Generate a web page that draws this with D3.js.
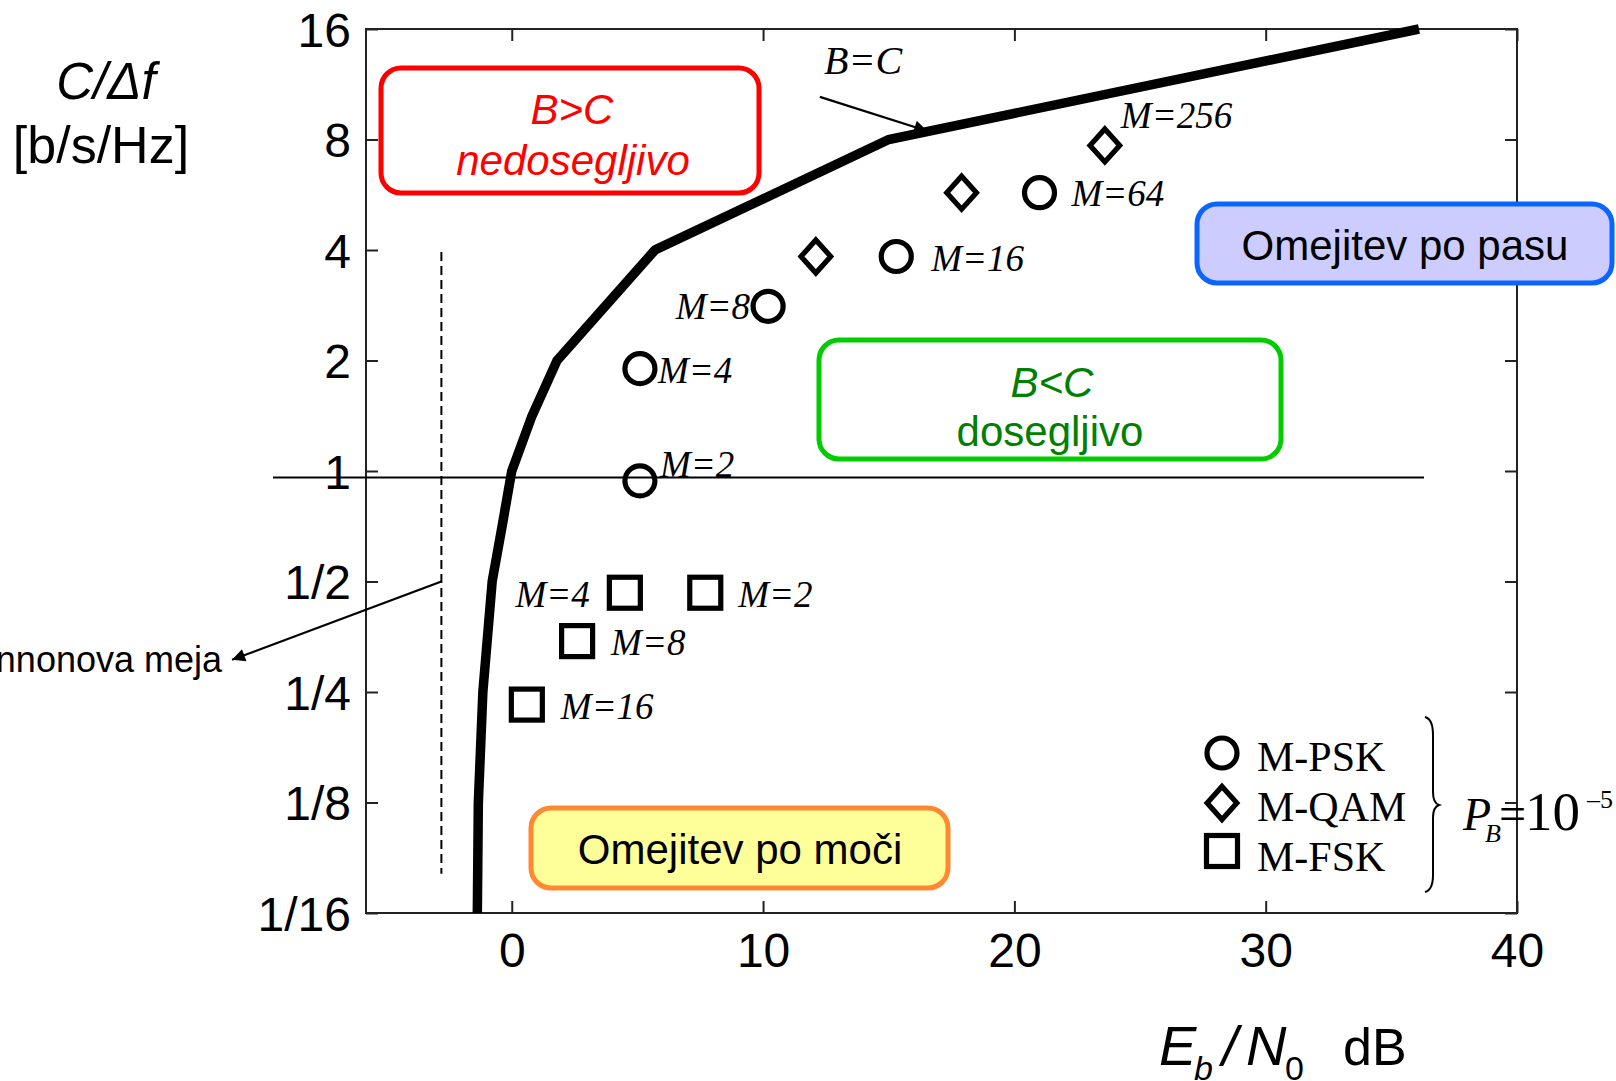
<!DOCTYPE html>
<html><head><meta charset="utf-8">
<script src="https://cdn.jsdelivr.net/npm/d3@7"></script>
<style>
body{margin:0;background:#fff}
svg{display:block}
</style>
</head><body>
<svg id="chart" width="1616" height="1081"></svg>
<script>
// ---------- data ----------
const xTicks = [0, 10, 20, 30, 40];
const yTicks = [1/16, 1/8, 1/4, 1/2, 1, 2, 4, 8, 16];
const yTickLabels = ["1/16", "1/8", "1/4", "1/2", "1", "2", "4", "8", "16"];

// Shannon bound B=C (Eb/N0 in dB vs C/Δf)
const curveRate = [1/16, 1/8, 1/4, 1/2, 0.71, 1, 1.41, 2, 4, 8, 16];
const curveEbN0 = [-1.37, -1.33, -1.15, -0.78, -0.38, 0, 0.8, 1.8, 5.7, 15.0, 36.1];

// M-PSK
const pskLabels = ["M=2", "M=4", "M=8", "M=16", "M=64"];
const pskEbN0 = [5.1, 5.1, 10.2, 15.3, 21.0];
const pskRate = [0.94, 1.9, 2.81, 3.84, 5.73];

// M-QAM
const qamLabels = ["", "", "M=256"];
const qamEbN0 = [12.1, 17.9, 23.6];
const qamRate = [3.84, 5.73, 7.71];

// M-FSK
const fskLabels = ["M=2", "M=4", "M=8", "M=16"];
const fskEbN0 = [7.7, 4.5, 2.6, 0.6];
const fskRate = [0.466, 0.466, 0.344, 0.231];

// Shannon limit (dashed) and reference line
const shannonLimitEbN0 = -2.8;
const shannonLimitRate = [0.08, 3.95];
const refLineRate = 0.96;
const refLineEbN0 = [-9.5, 36.3];

// ---------- layout / style ----------
const svg = d3.select("#chart");
const x = d3.scaleLinear().domain([-5.8, 40]).range([366, 1517]);
const y = d3.scaleLog().base(2).domain([1/16, 16]).range([913, 29]);
const SANS = "'Liberation Sans', Arial, sans-serif";
const SERIF = "'Liberation Serif', 'Times New Roman', serif";

const labelStyle = {
  psk: [{dx:20,dy:-4,a:"start"},{dx:18,dy:14,a:"start"},{dx:-18,dy:13,a:"end"},{dx:35,dy:14,a:"start"},{dx:32,dy:13,a:"start"}],
  qam: [null,null,{dx:16,dy:-17,a:"start"}],
  fsk: [{dx:33,dy:14,a:"start"},{dx:-35,dy:14,a:"end"},{dx:34,dy:14,a:"start"},{dx:34,dy:14,a:"start"}]
};

const defs = svg.append("defs");
defs.append("marker").attr("id","arr").attr("viewBox","0 0 10 10")
  .attr("refX",10).attr("refY",5).attr("markerWidth",20).attr("markerHeight",13)
  .attr("markerUnits","userSpaceOnUse").attr("orient","auto")
  .append("path").attr("d","M0,0 L10,5 L0,10 z").attr("fill","#000");

// ---------- axes ----------
const fr = {l: x.range()[0], r: x.range()[1], t: y.range()[1], b: y.range()[0]};

const gx = svg.append("g").attr("transform",`translate(0,${fr.b})`)
  .call(d3.axisBottom(x).tickValues(xTicks).tickSize(-12).tickPadding(20).tickFormat(d3.format("d")));
gx.select(".domain").remove();
gx.selectAll("text").attr("font-family",SANS).attr("font-size",48).attr("fill","#000");
gx.selectAll("line").attr("stroke","#222").attr("stroke-width",2);

const gxt = svg.append("g").attr("transform",`translate(0,${fr.t})`)
  .call(d3.axisTop(x).tickValues(xTicks).tickSize(-12).tickFormat(""));
gxt.select(".domain").remove();
gxt.selectAll("line").attr("stroke","#222").attr("stroke-width",2);

const gy = svg.append("g").attr("transform",`translate(${fr.l},0)`)
  .call(d3.axisLeft(y).tickValues(yTicks).tickSize(-12).tickPadding(15)
    .tickFormat((d,i)=>yTickLabels[i]));
gy.select(".domain").remove();
gy.selectAll("text").attr("font-family",SANS).attr("font-size",48).attr("fill","#000").attr("dy","0.36em");
gy.selectAll("line").attr("stroke","#222").attr("stroke-width",2);

const gyr = svg.append("g").attr("transform",`translate(${fr.r},0)`)
  .call(d3.axisRight(y).tickValues(yTicks).tickSize(-12).tickFormat(""));
gyr.select(".domain").remove();
gyr.selectAll("line").attr("stroke","#222").attr("stroke-width",2);

svg.append("rect").attr("x",fr.l).attr("y",fr.t).attr("width",fr.r-fr.l).attr("height",fr.b-fr.t)
  .attr("fill","none").attr("stroke","#222").attr("stroke-width",2);

// ---------- reference lines ----------
svg.append("line")
  .attr("x1",x(refLineEbN0[0])).attr("x2",x(refLineEbN0[1]))
  .attr("y1",y(refLineRate)).attr("y2",y(refLineRate))
  .attr("stroke","#000").attr("stroke-width",2.2);

svg.append("line")
  .attr("x1",x(shannonLimitEbN0)).attr("x2",x(shannonLimitEbN0))
  .attr("y1",y(shannonLimitRate[1])).attr("y2",y(shannonLimitRate[0]))
  .attr("stroke","#000").attr("stroke-width",2).attr("stroke-dasharray","9,5");

// ---------- boxes ----------
function box(x0,y0,x1,y1,fill,stroke,sw){
  svg.append("rect").attr("x",x0).attr("y",y0).attr("width",x1-x0).attr("height",y1-y0)
    .attr("rx",20).attr("ry",20).attr("fill",fill).attr("stroke",stroke).attr("stroke-width",sw);
}
function txt(t,xx,yy,opt){
  const e = svg.append("text").attr("x",xx).attr("y",yy).text(t)
    .attr("font-family",opt.family||SANS).attr("font-size",opt.size||42)
    .attr("fill",opt.fill||"#000").attr("text-anchor",opt.anchor||"start");
  if(opt.italic) e.attr("font-style","italic");
  return e;
}

box(381,68,759,193,"#fff","#ff0000",5);
txt("B>C",572,124,{italic:true,fill:"#ff0000",anchor:"middle"});
txt("nedosegljivo",573,175,{italic:true,fill:"#ff0000",anchor:"middle"});

box(819,340,1281,459,"#fff","#00cc00",5);
txt("B<C",1052,397,{italic:true,fill:"#008000",anchor:"middle"});
txt("dosegljivo",1050,446,{fill:"#008000",anchor:"middle"});

box(1197,204,1612,283,"#ccccff","#0a64ff",5);
txt("Omejitev po pasu",1405,260,{anchor:"middle"});

box(531,808,948,888,"#ffff99","#ff8833",5);
txt("Omejitev po moči",740,864,{anchor:"middle"});

// ---------- Shannon curve ----------
const curve = curveRate.map((r,i)=>({r, e: curveEbN0[i]}));
svg.append("path").datum(curve)
  .attr("d", d3.line().x(d=>x(d.e)).y(d=>y(d.r)))
  .attr("fill","none").attr("stroke","#000").attr("stroke-width",9.5)
  .attr("stroke-linejoin","miter");

// ---------- markers ----------
const MS = 5.2;
function circ(g,cx,cy){ g.append("circle").attr("cx",cx).attr("cy",cy).attr("r",15)
  .attr("fill","none").attr("stroke","#000").attr("stroke-width",MS); }
function diam(g,cx,cy){ const s=16.5; g.append("path")
  .attr("d",`M${cx},${cy-s}L${cx+s*0.9},${cy}L${cx},${cy+s}L${cx-s*0.9},${cy}Z`)
  .attr("fill","none").attr("stroke","#000").attr("stroke-width",MS); }
function sq(g,cx,cy){ const s=15.5; g.append("rect").attr("x",cx-s).attr("y",cy-s)
  .attr("width",2*s).attr("height",2*s)
  .attr("fill","none").attr("stroke","#000").attr("stroke-width",MS); }

const gm = svg.append("g");
function series(eb, rate, labels, styles, drawFn){
  eb.forEach((e,i)=>{
    const cx = x(e), cy = y(rate[i]);
    drawFn(gm,cx,cy);
    const st = styles[i];
    if(labels[i] && st){
      txt(labels[i], cx+st.dx, cy+st.dy, {family:SERIF, italic:true, size:37, anchor:st.a});
    }
  });
}
series(pskEbN0, pskRate, pskLabels, labelStyle.psk, circ);
series(qamEbN0, qamRate, qamLabels, labelStyle.qam, diam);
series(fskEbN0, fskRate, fskLabels, labelStyle.fsk, sq);

// ---------- annotations ----------
txt("B=C",824,74,{family:SERIF,italic:true,size:40});
svg.append("line").attr("x1",x(12.26)).attr("y1",y(10.45)).attr("x2",x(16.53)).attr("y2",y(8.44))
  .attr("stroke","#000").attr("stroke-width",2.2).attr("marker-end","url(#arr)");

svg.append("line").attr("x1",x(shannonLimitEbN0)).attr("y1",y(0.5))
  .attr("x2",x(-11.13)).attr("y2",y(0.306))
  .attr("stroke","#000").attr("stroke-width",2.2).attr("marker-end","url(#arr)");
txt("Shannonova meja",222,672,{size:36,anchor:"end"});

// ---------- legend ----------
const lg = svg.append("g");
circ(lg,1222,753); diam(lg,1222,803); sq(lg,1222,851);
txt("M-PSK",1257,771,{family:SERIF,size:42});
txt("M-QAM",1257,821,{family:SERIF,size:42});
txt("M-FSK",1257,871,{family:SERIF,size:42});
svg.append("path")
  .attr("d","M1425,717 Q1433,719 1433,735 L1433,792 Q1433,803 1439,805 Q1433,807 1433,818 L1433,875 Q1433,890 1425,892")
  .attr("fill","none").attr("stroke","#000").attr("stroke-width",2);
txt("P",1463,830,{family:SERIF,italic:true,size:46});
txt("B",1485,842,{family:SERIF,italic:true,size:26});
txt("=",1499,830,{family:SERIF,size:48});
txt("10",1525,830,{family:SERIF,size:55});
txt("–5",1587,808,{family:SERIF,size:26});

// ---------- axis titles ----------
txt("C/Δf",106,99,{size:51,italic:true,anchor:"middle"});
txt("[b/s/Hz]",101,163,{size:52,anchor:"middle"});

txt("E",1159,1065,{size:56,italic:true});
txt("b",1194,1080,{size:34,italic:true});
txt("/",1222,1065,{size:56,italic:true});
txt("N",1246,1065,{size:56,italic:true});
txt("0",1285,1080,{size:34});
txt("dB",1343,1065,{size:52});
</script>
</body></html>
